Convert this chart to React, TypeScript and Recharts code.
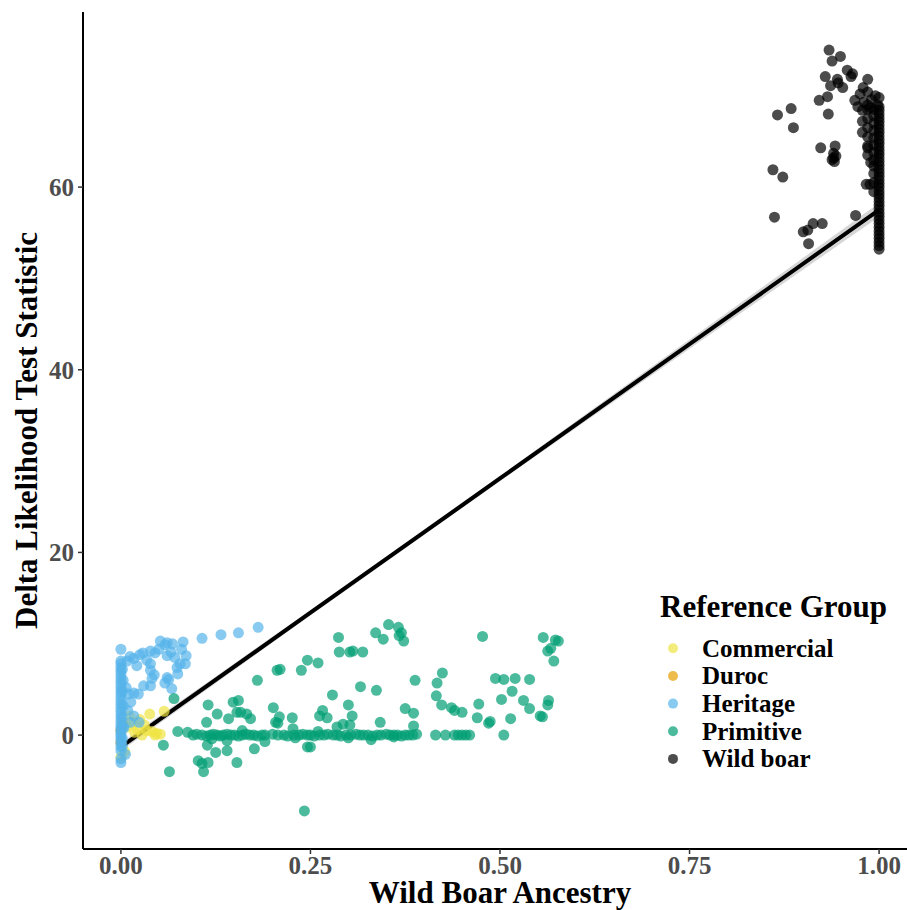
import {
  ComposedChart,
  Scatter,
  Line,
  Area,
  XAxis,
  YAxis,
  Legend,
  Label,
} from "recharts";

type Pt = [number, number];

const groups = ["Commercial", "Duroc", "Heritage", "Primitive", "Wild boar"];
const groupColors = ["#F0E442", "#E69F00", "#56B4E9", "#009E73", "#000000"];

const xTicks = [0, 0.25, 0.5, 0.75, 1];
const yTicks = [0, 20, 40, 60];

const commercialPts: Pt[] = [
  [0.038, 2.3], [0.057, 2.6], [0.034, 0.5], [0.047, 0.2], [0.028, 0.0],
  [0.015, 1.4], [0.011, 2.1], [0.022, 0.6], [0.025, 1.7], [0.045, 0.0],
  [0.052, 0.1], [0.005, -1.8], [0.0, -2.4], [0.018, 0.3], [0.031, 1.1],
  [0.008, 0.9], [0.041, 0.4],
];

const durocPts: Pt[] = [
  [0.0, 0.5], [0.002, 1.2], [0.0, -0.8],
];

const heritagePts: Pt[] = [
  // x = 0 column
  [0, -3.0], [0, -2.6], [0, -1.7], [0, -1.3], [0, -0.9], [0, -0.5], [0, -0.2],
  [0, 0.1], [0, 0.4], [0, 0.7], [0, 1.0], [0, 1.4], [0, 1.8], [0, 2.2],
  [0, 2.6], [0, 3.0], [0, 3.4], [0, 3.8], [0, 4.2], [0, 4.6], [0, 5.0],
  [0, 5.4], [0, 5.8], [0, 6.2], [0, 6.6], [0, 7.0], [0, 7.4], [0, 7.8],
  [0, 8.1], [0, 9.4], [0.003, 6.0], [0.003, 3.2], [0.003, 0.9],
  [0.002, 7.2], [0.002, 4.8], [0.002, 2.0], [0.002, -0.4], [0.002, -1.2],
  // spread
  [0.008, 8.1], [0.017, 8.4], [0.029, 9.0], [0.039, 9.2], [0.05, 9.4],
  [0.052, 10.3], [0.061, 10.1], [0.082, 10.2], [0.107, 10.6], [0.132, 11.0],
  [0.155, 11.2], [0.181, 11.8], [0.021, 7.6], [0.039, 7.8], [0.061, 8.7],
  [0.071, 8.5], [0.08, 9.4], [0.086, 8.7], [0.078, 7.8], [0.085, 7.8],
  [0.039, 7.1], [0.041, 6.2], [0.075, 6.7], [0.061, 6.3], [0.063, 6.1],
  [0.039, 5.4], [0.03, 5.4], [0.067, 5.1], [0.017, 4.6], [0.01, 4.5],
  [0.023, 4.5], [0.017, 2.1], [0.024, 1.4], [0.012, 1.4], [0.004, 0.8],
  [0.058, 9.9], [0.068, 10.0], [0.045, 9.0], [0.025, 8.8], [0.012, 8.6],
  [0.034, 8.2], [0.066, 9.1], [0.074, 7.4], [0.044, 6.6], [0.058, 5.7],
  [0.007, 5.2], [0.013, 3.6], [0.009, 2.7], [0.006, -2.1],
];

const primitivePts: Pt[] = [
  // band along zero
  [0.075, 0.4], [0.088, 0.3], [0.095, 0.0], [0.1, 0.1], [0.107, 0.0],
  [0.113, -0.1], [0.118, 0.0], [0.122, 0.1], [0.127, 0.0], [0.131, -0.1],
  [0.135, 0.0], [0.14, 0.1], [0.145, 0.0], [0.15, 0.0], [0.155, -0.1],
  [0.16, 0.0], [0.165, 0.1], [0.17, 0.0], [0.175, 0.0], [0.18, -0.1],
  [0.186, 0.0], [0.19, 0.0], [0.2, 0.1], [0.207, 0.0], [0.215, 0.0],
  [0.22, -0.1], [0.228, 0.0], [0.235, 0.0], [0.24, 0.1], [0.246, 0.0],
  [0.25, 0.0], [0.255, -0.1], [0.262, 0.0], [0.268, 0.0], [0.273, 0.1],
  [0.28, 0.0], [0.285, 0.0], [0.29, -0.1], [0.297, 0.0], [0.303, 0.0],
  [0.31, 0.1], [0.315, 0.0], [0.32, 0.0], [0.326, 0.0], [0.332, -0.1],
  [0.338, 0.0], [0.343, 0.0], [0.35, 0.1], [0.355, 0.0], [0.36, 0.0],
  [0.365, 0.0], [0.37, -0.1], [0.375, 0.0], [0.38, 0.0], [0.385, 0.0],
  [0.39, 0.1], [0.415, 0.0], [0.428, 0.0], [0.44, 0.0], [0.445, 0.0],
  [0.45, 0.0], [0.455, 0.0], [0.46, 0.0],
  [0.12, -0.4], [0.14, -0.6], [0.16, 0.5], [0.19, -0.7], [0.23, -0.3],
  [0.26, 0.4], [0.3, -0.3], [0.33, -0.5], [0.36, -0.2],
  // scattered
  [0.07, 4.0], [0.206, 7.1], [0.18, 6.0], [0.155, 3.8], [0.148, 3.6],
  [0.115, 3.3], [0.127, 2.3], [0.113, 1.4], [0.142, 1.8], [0.153, 2.5],
  [0.158, 2.5], [0.166, 2.3], [0.171, 1.8], [0.201, 3.0], [0.204, 1.4],
  [0.056, -1.1], [0.114, -1.1], [0.125, -1.9], [0.14, -1.7], [0.176, -1.5],
  [0.102, -2.8], [0.107, -3.1], [0.115, -3.0], [0.153, -3.0], [0.064, -4.0],
  [0.109, -4.0],
  [0.287, 10.7], [0.336, 11.2], [0.288, 9.1], [0.302, 9.1], [0.306, 9.2],
  [0.319, 9.1], [0.246, 8.2], [0.26, 7.9], [0.238, 7.1], [0.21, 7.2],
  [0.316, 5.3], [0.337, 4.9], [0.279, 4.4], [0.3, 3.3], [0.266, 2.7],
  [0.262, 2.1], [0.272, 1.9], [0.305, 2.1], [0.209, 2.0], [0.226, 1.9],
  [0.207, 1.3], [0.227, 0.7], [0.285, 0.9], [0.293, 1.2], [0.302, 1.1],
  [0.342, 1.4], [0.246, -1.3], [0.25, -1.3], [0.242, -8.3],
  [0.353, 12.1], [0.366, 11.8], [0.37, 11.2], [0.373, 10.3], [0.367, 10.9],
  [0.346, 10.5], [0.477, 10.8], [0.557, 10.7], [0.573, 10.4], [0.577, 10.3],
  [0.563, 9.2], [0.567, 9.5], [0.571, 8.1], [0.388, 6.0], [0.424, 6.8],
  [0.417, 5.7], [0.416, 4.3], [0.423, 3.3], [0.436, 3.0], [0.44, 2.7],
  [0.45, 2.5], [0.375, 2.9], [0.386, 2.4], [0.386, 1.0], [0.472, 3.4],
  [0.47, 1.9], [0.485, 1.3], [0.487, 1.5], [0.494, 6.2], [0.505, 6.1],
  [0.52, 6.2], [0.539, 6.1], [0.516, 4.8], [0.502, 3.9], [0.531, 3.8],
  [0.539, 2.9], [0.514, 1.8], [0.505, 0.0], [0.553, 2.1], [0.556, 2.0],
  [0.564, 3.8], [0.563, 3.3],
];

const wildBoarPts: Pt[] = [
  // scattered
  [0.934, 75.0], [0.949, 74.3], [0.938, 73.8], [0.958, 72.8], [0.965, 72.4],
  [0.963, 72.1], [0.929, 72.1], [0.945, 71.8], [0.946, 71.4], [0.936, 71.1],
  [0.952, 70.9], [0.985, 71.8], [0.979, 70.9], [0.932, 69.9], [0.921, 69.5],
  [0.884, 68.6], [0.866, 67.9], [0.933, 68.0], [0.887, 66.5], [0.923, 64.3],
  [0.942, 64.5], [0.94, 63.7], [0.94, 63.2], [0.941, 62.8], [0.938, 63.0],
  [0.943, 63.4], [0.86, 61.9], [0.873, 61.1], [0.985, 64.3], [0.989, 62.7],
  [0.983, 60.3], [0.988, 60.3], [0.862, 56.7], [0.969, 56.9], [0.913, 56.0],
  [0.925, 56.0], [0.9, 55.1], [0.906, 55.3], [0.907, 53.8],
  // top blob
  [0.968, 69.5], [0.975, 70.2], [0.98, 69.3], [0.985, 70.4], [0.99, 69.6],
  [0.995, 70.0], [0.972, 68.8], [0.988, 68.7], [0.998, 69.0], [1.0, 69.8],
  [0.978, 66.0], [0.978, 67.2], [0.978, 68.4],
  [0.985, 63.5], [0.985, 64.5], [0.985, 65.5], [0.985, 66.5], [0.985, 67.5],
  [0.985, 68.5], [0.985, 69.0],
  [0.993, 59.5], [0.993, 60.5], [0.993, 61.5], [0.993, 62.3], [0.993, 63.0],
  [0.993, 63.8], [0.993, 64.6], [0.993, 65.4], [0.993, 66.2], [0.993, 67.0],
  [0.993, 67.8], [0.993, 68.5],
  // x = 1 column
  [1, 53.2], [1, 53.6], [1, 54.0], [1, 54.4], [1, 54.8], [1, 55.2], [1, 55.6],
  [1, 56.0], [1, 56.4], [1, 56.8], [1, 57.2], [1, 57.6], [1, 58.0], [1, 58.4],
  [1, 58.8], [1, 59.2], [1, 59.6], [1, 60.0], [1, 60.4], [1, 60.8], [1, 61.2],
  [1, 61.6], [1, 62.0], [1, 62.4], [1, 62.8], [1, 63.2], [1, 63.6], [1, 64.0],
  [1, 64.4], [1, 64.8], [1, 65.2], [1, 65.6], [1, 66.0], [1, 66.4], [1, 66.8],
  [1, 67.2], [1, 67.6], [1, 68.0], [1, 68.4], [1, 68.8],
];

// linear fit and its confidence band
const fitX = [0, 0.25, 0.5, 0.75, 1];
const fitY = [-1.3, 13.4, 28.1, 42.8, 57.5];
const fitLow = [-1.75, 13.1, 27.8, 42.3, 56.75];
const fitHigh = [-0.85, 13.7, 28.4, 43.3, 58.25];

const toXY = (pts: Pt[]) => pts.map(([x, y]) => ({ x, y }));
const groupData = [commercialPts, durocPts, heritagePts, primitivePts, wildBoarPts].map(toXY);
const fitData = fitX.map((x, i) => ({ x, y: fitY[i] }));
const bandData = fitX.map((x, i) => ({ x, band: [fitLow[i], fitHigh[i]] }));

const FONT = "'Liberation Serif', 'Times New Roman', serif";

const dotShape = (color: string) => (props: any) => (
  <circle cx={props.cx} cy={props.cy} r={5.5} fill={color} fillOpacity={0.7} />
);

const renderLegend = (props: any) => {
  const items = (props.payload || []).filter((p: any) => p.type !== "none");
  return (
    <svg width={260} height={200} style={{ fontFamily: FONT, fontWeight: "bold" }}>
      <text x={20} y={37} fontSize={31} fill="#000">
        Reference Group
      </text>
      {items.map((p: any, i: number) => (
        <g key={p.value}>
          <circle cx={33} cy={68.3 + i * 27.65} r={5} fill={p.color} fillOpacity={0.7} />
          <text x={62} y={76.7 + i * 27.65} fontSize={25} fill="#000">
            {p.value}
          </text>
        </g>
      ))}
    </svg>
  );
};

const YTitle = (props: any) => {
  const vb = props.viewBox;
  const cy = vb.y + vb.height / 2;
  return (
    <text
      x={37}
      y={cy}
      transform={`rotate(-90, 37, ${cy})`}
      textAnchor="middle"
      fontSize={31}
      fontWeight="bold"
      fontFamily={FONT}
      fill="#000"
    >
      Delta Likelihood Test Statistic
    </text>
  );
};

const tickStyle = { fill: "#4D4D4D", fontSize: 25, fontWeight: "bold", fontFamily: FONT };

export default function App() {
  return (
    <div
      style={{
        position: "absolute",
        left: 0,
        top: 0,
        width: 907,
        height: 910,
        overflow: "hidden",
        background: "#fff",
        fontFamily: FONT,
      }}
    >
      <ComposedChart width={917} height={910} margin={{ top: 12, right: 0, bottom: 0, left: 0 }}>
        <XAxis
          type="number"
          dataKey="x"
          domain={[-0.05, 1.05]}
          ticks={xTicks}
          allowDataOverflow
          tickFormatter={(v: number) => v.toFixed(2)}
          height={61}
          tick={tickStyle}
          tickSize={5}
          tickMargin={2}
          tickLine={{ stroke: "#333333", strokeWidth: 1.5 }}
          axisLine={{ stroke: "#000", strokeWidth: 2 }}
        >
          <Label
            value="Wild Boar Ancestry"
            position="insideBottom"
            offset={7}
            fontSize={31}
            fontWeight="bold"
            fontFamily={FONT}
            fill="#000"
          />
        </XAxis>
        <YAxis
          type="number"
          dataKey="y"
          domain={[-12.47, 79.17]}
          ticks={yTicks}
          allowDataOverflow
          width={83}
          tick={tickStyle}
          tickSize={5}
          tickMargin={4}
          tickLine={{ stroke: "#333333", strokeWidth: 1.5 }}
          axisLine={{ stroke: "#000", strokeWidth: 2 }}
        >
          <Label content={<YTitle />} />
        </YAxis>
        {groups.map((g, i) => (
          <Scatter
            key={g}
            name={g}
            data={groupData[i]}
            fill={groupColors[i]}
            shape={dotShape(groupColors[i])}
            isAnimationActive={false}
          />
        ))}
        <Area
          data={bandData}
          dataKey="band"
          type="linear"
          stroke="none"
          fill="#999999"
          fillOpacity={0.4}
          legendType="none"
          isAnimationActive={false}
        />
        <Line
          data={fitData}
          dataKey="y"
          type="linear"
          stroke="#000"
          strokeWidth={4}
          dot={false}
          legendType="none"
          isAnimationActive={false}
        />
        <Legend
          content={renderLegend}
          layout="vertical"
          align="center"
          verticalAlign="middle"
          wrapperStyle={{ left: 640, top: 580, width: 260, height: 200 }}
        />
      </ComposedChart>
    </div>
  );
}
